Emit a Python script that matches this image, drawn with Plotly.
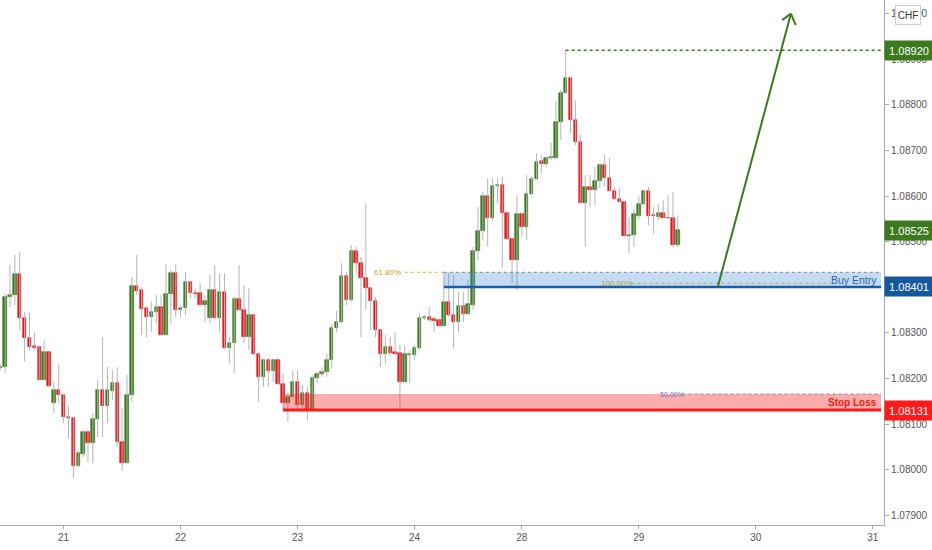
import plotly.graph_objects as go

# hourly candles, index 0 = start of day 21
candle_idx = list(range(-13, 127))

opens = [
    1.08224, 1.08225, 1.08378, 1.08383, 1.08429, 1.08332, 1.08288, 1.08271, 1.08269, 1.08198,
    1.08258, 1.08146, 1.08175, 1.08165, 1.08116, 1.08113, 1.08008, 1.08034, 1.08083, 1.08058,
    1.08111, 1.08175, 1.08140, 1.08173, 1.08190, 1.08061, 1.08015, 1.08163, 1.08403, 1.08394,
    1.08354, 1.08335, 1.08346, 1.08357, 1.08295, 1.08385, 1.08431, 1.08350, 1.08354, 1.08412,
    1.08388, 1.08387, 1.08361, 1.08332, 1.08394, 1.08333, 1.08390, 1.08266, 1.08277, 1.08374,
    1.08350, 1.08291, 1.08339, 1.08253, 1.08204, 1.08240, 1.08217, 1.08240, 1.08188, 1.08146,
    1.08160, 1.08193, 1.08142, 1.08168, 1.08131, 1.08201, 1.08210, 1.08215, 1.08240, 1.08310,
    1.08323, 1.08425, 1.08372, 1.08480, 1.08454, 1.08420, 1.08398, 1.08370, 1.08306, 1.08253,
    1.08269, 1.08258, 1.08256, 1.08192, 1.08251, 1.08251, 1.08266, 1.08332, 1.08334, 1.08330,
    1.08328, 1.08316, 1.08368, 1.08339, 1.08324, 1.08359, 1.08341, 1.08361, 1.08480, 1.08523,
    1.08600, 1.08552, 1.08622, 1.08625, 1.08562, 1.08505, 1.08460, 1.08560, 1.08533, 1.08604,
    1.08637, 1.08677, 1.08670, 1.08683, 1.08683, 1.08763, 1.08827, 1.08860, 1.08767, 1.08719,
    1.08586, 1.08620, 1.08613, 1.08633, 1.08669, 1.08639, 1.08612, 1.08593, 1.08588, 1.08513,
    1.08515, 1.08557, 1.08582, 1.08612, 1.08559, 1.08555, 1.08564, 1.08553, 1.08553, 1.08493,
]
highs = [
    1.08232, 1.08387, 1.08449, 1.08471, 1.08478, 1.08346, 1.08345, 1.08302, 1.08270, 1.08284,
    1.08259, 1.08193, 1.08231, 1.08166, 1.08140, 1.08114, 1.08043, 1.08087, 1.08087, 1.08124,
    1.08197, 1.08291, 1.08225, 1.08219, 1.08225, 1.08135, 1.08208, 1.08423, 1.08471, 1.08401,
    1.08357, 1.08368, 1.08383, 1.08383, 1.08451, 1.08438, 1.08451, 1.08361, 1.08434, 1.08413,
    1.08398, 1.08409, 1.08383, 1.08427, 1.08449, 1.08431, 1.08431, 1.08291, 1.08379, 1.08449,
    1.08405, 1.08398, 1.08340, 1.08254, 1.08241, 1.08241, 1.08244, 1.08241, 1.08212, 1.08168,
    1.08217, 1.08219, 1.08186, 1.08182, 1.08208, 1.08215, 1.08225, 1.08255, 1.08321, 1.08348,
    1.08453, 1.08434, 1.08493, 1.08489, 1.08467, 1.08584, 1.08401, 1.08379, 1.08307, 1.08295,
    1.08291, 1.08302, 1.08273, 1.08273, 1.08262, 1.08273, 1.08343, 1.08339, 1.08357, 1.08335,
    1.08332, 1.08431, 1.08431, 1.08427, 1.08390, 1.08390, 1.08416, 1.08489, 1.08576, 1.08609,
    1.08639, 1.08639, 1.08639, 1.08643, 1.08563, 1.08506, 1.08602, 1.08562, 1.08646, 1.08643,
    1.08694, 1.08690, 1.08686, 1.08717, 1.08807, 1.08833, 1.08920, 1.08861, 1.08810, 1.08734,
    1.08646, 1.08646, 1.08664, 1.08672, 1.08690, 1.08683, 1.08620, 1.08617, 1.08589, 1.08554,
    1.08573, 1.08599, 1.08613, 1.08620, 1.08576, 1.08584, 1.08591, 1.08602, 1.08609, 1.08558,
]
lows = [
    1.08218, 1.08213, 1.08357, 1.08361, 1.08306, 1.08237, 1.08262, 1.08262, 1.08197, 1.08197,
    1.08182, 1.08124, 1.08146, 1.08102, 1.08069, 1.07981, 1.08006, 1.08028, 1.08017, 1.08014,
    1.08072, 1.08072, 1.08102, 1.08153, 1.08050, 1.07999, 1.08014, 1.08149, 1.08383, 1.08295,
    1.08291, 1.08302, 1.08321, 1.08294, 1.08294, 1.08321, 1.08335, 1.08335, 1.08339, 1.08376,
    1.08376, 1.08360, 1.08324, 1.08321, 1.08331, 1.08302, 1.08265, 1.08233, 1.08212, 1.08349,
    1.08277, 1.08262, 1.08251, 1.08149, 1.08182, 1.08182, 1.08193, 1.08186, 1.08131, 1.08105,
    1.08159, 1.08131, 1.08127, 1.08109, 1.08127, 1.08190, 1.08204, 1.08204, 1.08222, 1.08302,
    1.08321, 1.08361, 1.08368, 1.08431, 1.08291, 1.08350, 1.08306, 1.08291, 1.08225, 1.08233,
    1.08251, 1.08251, 1.08135, 1.08190, 1.08190, 1.08240, 1.08262, 1.08328, 1.08324, 1.08302,
    1.08314, 1.08314, 1.08335, 1.08266, 1.08302, 1.08324, 1.08339, 1.08350, 1.08460, 1.08504,
    1.08489, 1.08547, 1.08584, 1.08442, 1.08504, 1.08409, 1.08394, 1.08511, 1.08504, 1.08602,
    1.08635, 1.08650, 1.08664, 1.08679, 1.08681, 1.08723, 1.08825, 1.08738, 1.08712, 1.08584,
    1.08489, 1.08577, 1.08580, 1.08617, 1.08621, 1.08611, 1.08591, 1.08587, 1.08511, 1.08475,
    1.08489, 1.08547, 1.08580, 1.08536, 1.08518, 1.08547, 1.08551, 1.08550, 1.08489, 1.08489,
]
closes = [
    1.08226, 1.08378, 1.08383, 1.08429, 1.08332, 1.08288, 1.08269, 1.08268, 1.08198, 1.08258,
    1.08184, 1.08175, 1.08164, 1.08116, 1.08113, 1.08008, 1.08036, 1.08083, 1.08058, 1.08111,
    1.08175, 1.08140, 1.08175, 1.08190, 1.08060, 1.08015, 1.08164, 1.08403, 1.08393, 1.08353,
    1.08335, 1.08346, 1.08357, 1.08295, 1.08385, 1.08431, 1.08350, 1.08355, 1.08412, 1.08387,
    1.08385, 1.08361, 1.08370, 1.08394, 1.08332, 1.08390, 1.08266, 1.08278, 1.08374, 1.08350,
    1.08291, 1.08339, 1.08253, 1.08204, 1.08240, 1.08217, 1.08240, 1.08188, 1.08146, 1.08160,
    1.08193, 1.08142, 1.08169, 1.08131, 1.08201, 1.08210, 1.08215, 1.08240, 1.08310, 1.08323,
    1.08425, 1.08372, 1.08480, 1.08454, 1.08420, 1.08398, 1.08370, 1.08306, 1.08253, 1.08269,
    1.08256, 1.08255, 1.08192, 1.08255, 1.08255, 1.08266, 1.08332, 1.08334, 1.08328, 1.08327,
    1.08316, 1.08368, 1.08339, 1.08324, 1.08359, 1.08341, 1.08363, 1.08480, 1.08523, 1.08600,
    1.08552, 1.08622, 1.08625, 1.08562, 1.08505, 1.08460, 1.08560, 1.08533, 1.08604, 1.08637,
    1.08675, 1.08670, 1.08683, 1.08685, 1.08763, 1.08827, 1.08860, 1.08767, 1.08719, 1.08586,
    1.08620, 1.08613, 1.08633, 1.08669, 1.08639, 1.08612, 1.08593, 1.08588, 1.08513, 1.08515,
    1.08560, 1.08582, 1.08612, 1.08557, 1.08557, 1.08564, 1.08552, 1.08551, 1.08493, 1.08525,
]

day_ticks = [0, 24, 48, 72, 94, 118, 142, 166]
day_labels = ['21', '22', '23', '24', '28', '29', '30', '31']
price_ticks = [1.079, 1.080, 1.081, 1.082, 1.083, 1.084, 1.085, 1.086, 1.087, 1.088, 1.089, 1.090]

# drawn levels
target = 1.08920
last_price = 1.08525
entry = 1.08401
fib_618 = 1.08433
fib_100 = 1.08409
stop_loss = 1.08131
fib_50 = 1.08166

GREEN = '#3b7a1f'
RED = '#e8161b'
WICK = '#b5b5b5'

x_min, x_max = -13.05, 168.3
y_min, y_max = 1.07879, 1.09030
zone_end = 167.7

# wicks as one line trace
wx, wy = [], []
for i, lo, hi in zip(candle_idx, lows, highs):
    wx += [i, i, None]
    wy += [lo, hi, None]

body_base = [min(o, c) for o, c in zip(opens, closes)]
body_len = [abs(c - o) for o, c in zip(opens, closes)]
body_col = [GREEN if c >= o else RED for o, c in zip(opens, closes)]

fig = go.Figure()
fig.add_trace(go.Scatter(x=wx, y=wy, mode='lines', line=dict(color=WICK, width=1),
                         hoverinfo='skip', showlegend=False))
fig.add_trace(go.Bar(x=candle_idx, y=body_len, base=body_base, width=0.7,
                     marker=dict(color=body_col, line=dict(color=body_col, width=0.6)),
                     showlegend=False))

shapes = []
# stop loss zone
shapes.append(dict(type='rect', xref='x', yref='y', x0=45, x1=zone_end, y0=stop_loss, y1=fib_50,
                   fillcolor='rgba(245,40,40,0.38)', line=dict(width=0)))
shapes.append(dict(type='line', xref='x', yref='y', x0=45, x1=zone_end, y0=stop_loss, y1=stop_loss,
                   line=dict(color='#ff1a1a', width=3)))
shapes.append(dict(type='line', xref='x', yref='y', x0=127, x1=zone_end, y0=fib_50, y1=fib_50,
                   line=dict(color='#7d8bb0', width=1, dash='dot')))
# buy entry zone
shapes.append(dict(type='rect', xref='x', yref='y', x0=78, x1=zone_end, y0=entry, y1=fib_618,
                   fillcolor='rgba(60,140,215,0.3)', line=dict(width=0)))
shapes.append(dict(type='line', xref='x', yref='y', x0=78, x1=zone_end, y0=entry, y1=entry,
                   line=dict(color='#1e5ba6', width=2.5)))
shapes.append(dict(type='line', xref='x', yref='y', x0=78, x1=zone_end, y0=fib_618, y1=fib_618,
                   line=dict(color='#7a8494', width=1, dash='dot')))
shapes.append(dict(type='line', xref='x', yref='y', x0=70, x1=78, y0=fib_618, y1=fib_618,
                   line=dict(color='#d4b838', width=1, dash='dot')))
shapes.append(dict(type='line', xref='x', yref='y', x0=116.5, x1=158.5, y0=fib_100, y1=fib_100,
                   line=dict(color='#a9a85a', width=1, dash='dot')))
# target line
shapes.append(dict(type='line', xref='x', yref='y', x0=103, x1=zone_end, y0=target, y1=target,
                   line=dict(color=GREEN, width=1.5, dash='dot')))
# arrow shaft and head
shapes.append(dict(type='line', xref='x', yref='y', x0=134.2, y0=entry, x1=149.2, y1=1.09000,
                   line=dict(color=GREEN, width=2)))
shapes.append(dict(type='line', xref='x', yref='y', x0=149.2, y0=1.09000, x1=147.4, y1=1.08986,
                   line=dict(color=GREEN, width=2)))
shapes.append(dict(type='line', xref='x', yref='y', x0=149.2, y0=1.09000, x1=150.2, y1=1.08975,
                   line=dict(color=GREEN, width=2)))

annotations = [
    dict(x=66.5, y=fib_618, text='61.80%', showarrow=False, font=dict(size=8, color='#c9a832')),
    dict(x=113.5, y=fib_100, text='100.00%', showarrow=False, font=dict(size=8, color='#a3a050')),
    dict(x=124.8, y=fib_50, text='50.00%', showarrow=False, font=dict(size=7, color='#6576a8')),
    dict(x=167.3, y=(entry + fib_618) / 2, text='Buy Entry', showarrow=False, xanchor='right',
         font=dict(size=10.5, color='#2f62b0')),
    dict(x=167.3, y=(stop_loss + fib_50) / 2, text='<b>Stop Loss</b>', showarrow=False,
         xanchor='right', font=dict(size=10, color='#f01c1c')),
]

# price tags on the right axis
for val, col in [(target, GREEN), (last_price, GREEN), (entry, '#17589c'), (stop_loss, '#ff1a1a')]:
    annotations.append(dict(xref='paper', x=1, xanchor='left', y=val, yref='y', yanchor='middle',
                            text=f'{val:.5f}', showarrow=False, bgcolor=col, width=44, height=15,
                            borderpad=2, font=dict(size=11, color='white')))
annotations.append(dict(xref='paper', x=1, xanchor='left', xshift=11, y=1.08997, yref='y',
                        yanchor='middle', text='CHF', showarrow=False, bgcolor='white',
                        bordercolor='#cfcfcf', borderwidth=1, borderpad=1, width=22, height=16,
                        font=dict(size=10, color='#333333')))

fig.update_layout(
    width=932, height=550,
    margin=dict(l=0, r=48, t=0, b=25),
    paper_bgcolor='white', plot_bgcolor='white',
    font=dict(family='Liberation Sans, Arial, sans-serif', size=10, color='#555555'),
    barmode='overlay', bargap=0,
    shapes=shapes, annotations=annotations,
    showlegend=False,
    xaxis=dict(range=[x_min, x_max], tickvals=day_ticks, ticktext=day_labels,
               showgrid=False, zeroline=False, showline=True, linecolor='#a8a8a8',
               ticks='outside', ticklen=3, tickcolor='#a8a8a8'),
    yaxis=dict(range=[y_min, y_max], side='right', tickvals=price_ticks, tickformat='.5f',
               showgrid=False, zeroline=False, showline=True, linecolor='#a8a8a8',
               ticks='outside', ticklen=4, tickcolor='#a8a8a8'),
)

# page default margin would push the figure out of the 932x550 window
fig.write_html("out.html", config={'displayModeBar': False},
               post_script="document.body.style.margin='0px';")
